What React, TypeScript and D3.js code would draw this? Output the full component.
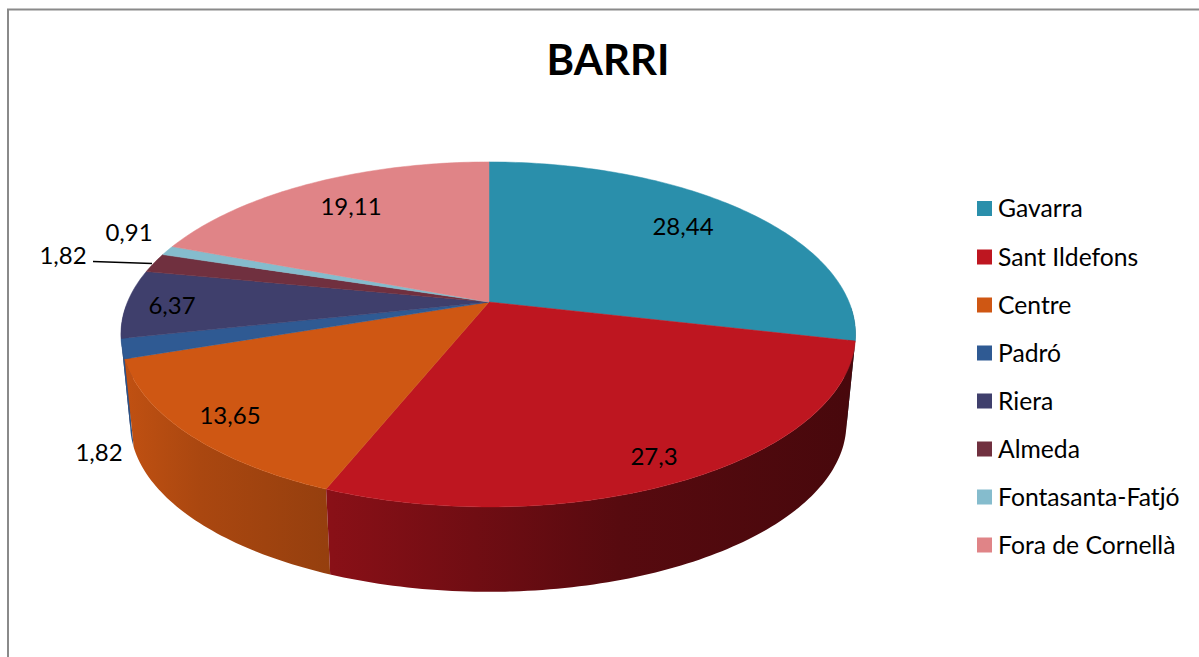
import React from "react";
import * as d3 from "d3";

const categories = ["Gavarra", "Sant Ildefons", "Centre", "Padró", "Riera", "Almeda", "Fontasanta-Fatjó", "Fora de Cornellà"];
const values = [28.44, 27.3, 13.65, 1.82, 6.37, 1.82, 0.91, 19.11];
const valueLabels = ["28,44", "27,3", "13,65", "1,82", "6,37", "1,82", "0,91", "19,11"];
const colors = ["#2a8fab", "#be1620", "#cf5713", "#2f5a93", "#3f3f6c", "#70303f", "#85bccd", "#e08487"];
const labelX = [683, 654, 230, 99, 172, 63, 129, 351];
const labelY = [227, 457, 416, 453, 306, 256, 233, 207];
const legendY = [208.5, 257, 305, 353, 401, 449, 497, 545];
const shadeX = [122, 200, 330, 620, 850];
const shadeF = [0.93, 0.82, 0.72, 0.46, 0.38];

const FONT = "Lato, Carlito, 'Open Sans', sans-serif";
const CX = 489, CY = 302;
const D_RIGHT = 360, D_LEFT = 361.5, A = 166.4, C = -0.188;
const S = 0.975, H = 90;

type P = [number, number];
const topPoint = (a: number): P => {
  const x = Math.sin(a), y = -Math.cos(a), w = 1 + C * y;
  return [CX + ((x < 0 ? D_LEFT : D_RIGHT) * x) / w, CY + (A * y) / w];
};
const bottomPoint = (a: number): P => {
  const [x, y] = topPoint(a);
  return [CX + (x - CX) * S, CY + (y - CY) * S + H];
};
const darken = (c: string, f: number) => {
  const r = d3.rgb(c);
  return d3.rgb(r.r * f, r.g * f, r.b * f).formatHex();
};
const line = d3.line<P>();
const arcs = d3.pie<number>().sort(null)(values);
const STEP = (Math.PI * 2) / 360;
const samples = (a0: number, a1: number) => {
  const n = Math.max(1, Math.ceil((a1 - a0) / STEP));
  return d3.range(n + 1).map((i) => a0 + ((a1 - a0) * i) / n);
};
const frontOnly = (s: number[]) => s.filter((a) => -Math.cos(a) > 0.02);
const shadeOffset = d3.scaleLinear().domain([shadeX[0], shadeX[shadeX.length - 1]]).range([0, 1]);

export default function App() {
  const sides = arcs
    .map((arc, k) => {
      const s = frontOnly(samples(arc.startAngle, arc.endAngle));
      if (s.length < 2) return null;
      const pts: P[] = [...s.map(topPoint), ...s.slice().reverse().map(bottomPoint)];
      return { k, d: line(pts) + "Z", my: d3.mean(pts, (p) => p[1]) as number };
    })
    .filter(Boolean) as { k: number; d: string; my: number }[];
  sides.sort((p, q) => p.my - q.my);

  return (
    <svg width={1199} height={657} viewBox="0 0 1199 657" style={{ position: "absolute", left: 0, top: 0, display: "block", background: "#fff" }}>
      <defs>
        {sides.map((s) => (
          <linearGradient key={s.k} id={`side${s.k}`} gradientUnits="userSpaceOnUse" x1={shadeX[0]} y1={0} x2={shadeX[shadeX.length - 1]} y2={0}>
            {shadeX.map((x, i) => (
              <stop key={x} offset={shadeOffset(x)} stopColor={darken(colors[s.k], shadeF[i])} />
            ))}
          </linearGradient>
        ))}
      </defs>
      <path d="M8 657V9.5H1199" fill="none" stroke="#8a8a8a" strokeWidth={2} />
      <text x={608} y={75} textAnchor="middle" fontFamily={FONT} fontWeight={700} fontSize={42} fill="#000">BARRI</text>
      {sides.map((s) => (
        <path key={s.k} d={s.d} fill={`url(#side${s.k})`} />
      ))}
      {arcs.map((arc, k) => {
        const pts: P[] = [[CX, CY], ...samples(arc.startAngle, arc.endAngle).map(topPoint)];
        return <path key={k} d={line(pts) + "Z"} fill={colors[k]} stroke={colors[k]} strokeWidth={0.5} />;
      })}
      <line x1={93} y1={261.5} x2={152} y2={263.5} stroke="#000" strokeWidth={1.3} />
      {valueLabels.map((t, i) => (
        <text key={i} x={labelX[i]} y={labelY[i]} dy="0.35em" textAnchor="middle" fontFamily={FONT} fontSize={24} fill="#000">{t}</text>
      ))}
      {categories.map((c, i) => (
        <g key={c}>
          <rect x={977} y={legendY[i] - 7.5} width={15} height={15} fill={colors[i]} />
          <text x={998} y={legendY[i]} dy="0.35em" fontFamily={FONT} fontSize={24.7} fill="#000">{c}</text>
        </g>
      ))}
    </svg>
  );
}
